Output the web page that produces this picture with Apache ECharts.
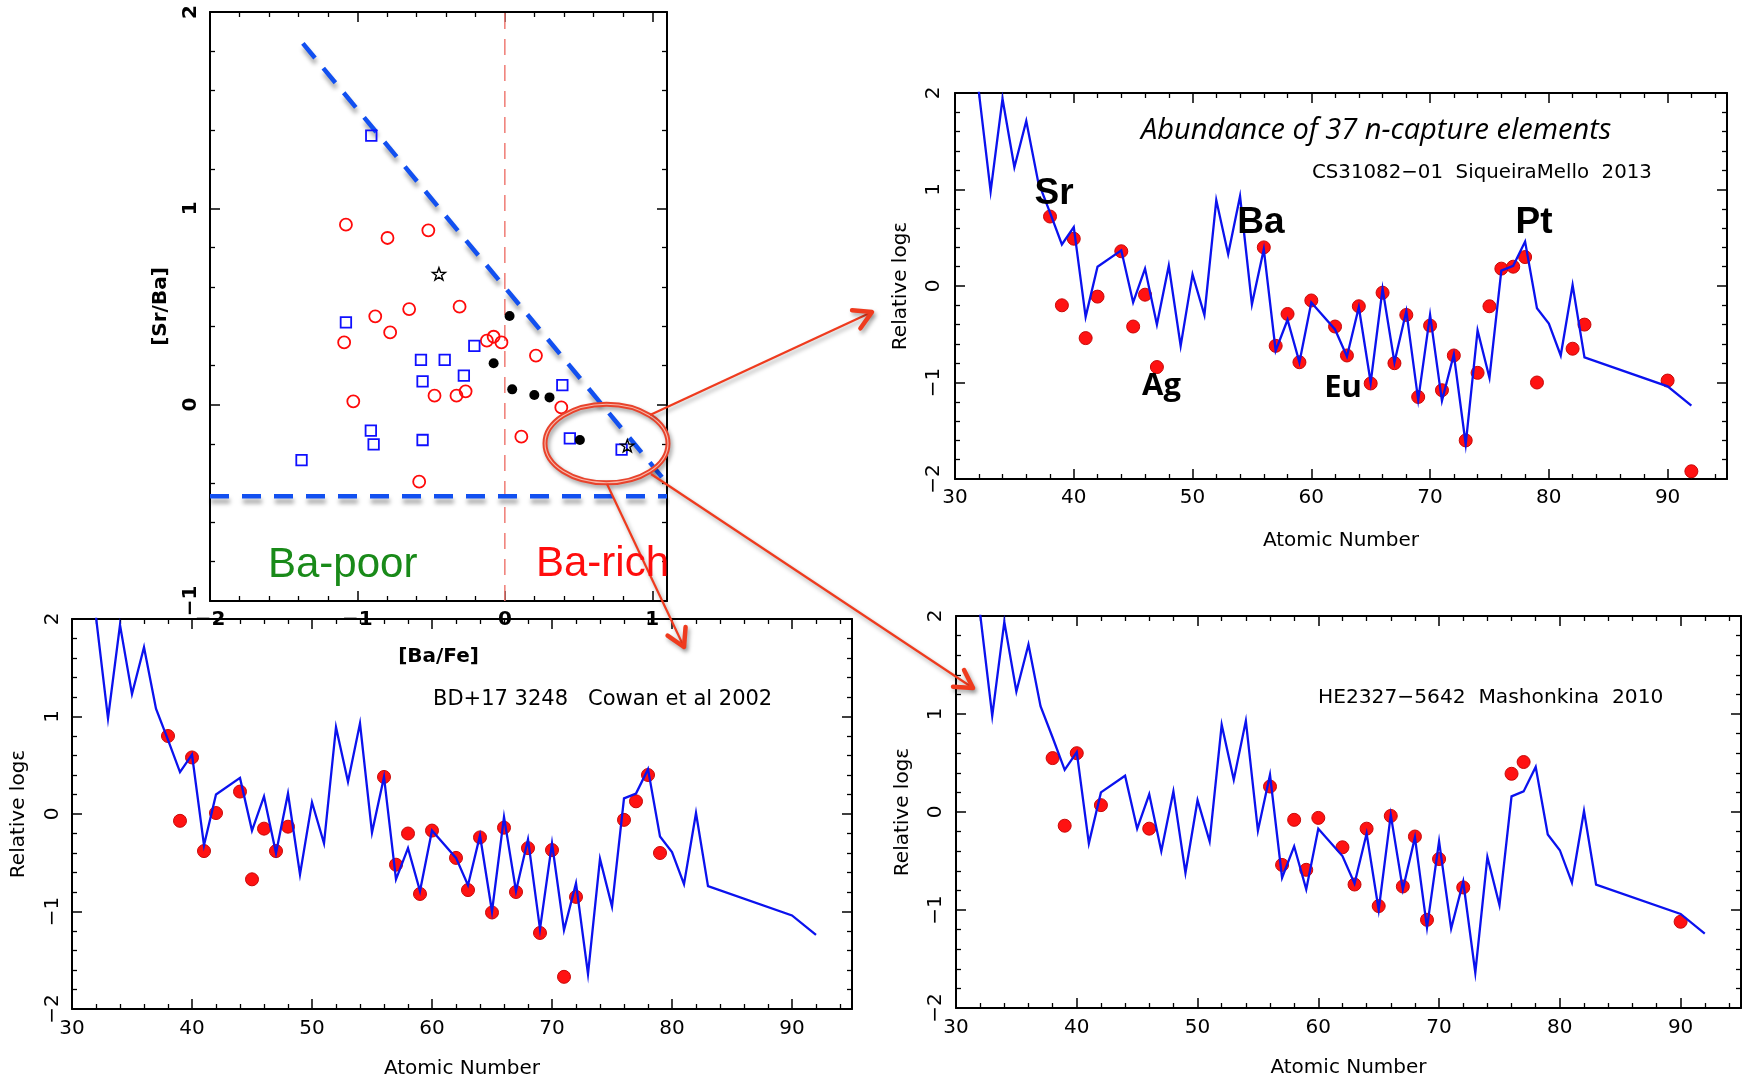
<!DOCTYPE html>
<html>
<head>
<meta charset="utf-8">
<title>n-capture abundance patterns</title>
<script src="https://cdn.jsdelivr.net/npm/echarts@6/dist/echarts.min.js"></script>
<style>
  html, body { margin: 0; padding: 0; background: #ffffff; }
  #chart { width: 1752px; height: 1081px; }
</style>
</head>
<body>
<div id="chart"></div>
<script>
// ---------- [Ba/Fe] vs [Sr/Ba] sample ----------
const redCircles = [
  [-1.078, 0.917], [-0.796, 0.849], [-0.519, 0.888], [-0.307, 0.499], [-0.649, 0.487],
  [-0.879, 0.450], [-0.778, 0.368], [-1.090, 0.317], [-0.076, 0.346], [-0.122, 0.326],
  [-0.023, 0.317], [0.211, 0.250], [-1.028, 0.017], [-0.477, 0.046], [-0.328, 0.046],
  [-0.266, 0.068], [0.383, -0.014], [0.112, -0.163], [-0.581, -0.392]
];
const blueSquares = [
  [-0.906, 1.370], [-1.078, 0.419], [-0.207, 0.299], [-0.569, 0.228], [-0.408, 0.228],
  [-0.278, 0.148], [-0.558, 0.119], [0.390, 0.100], [-0.909, -0.132], [-0.890, -0.202],
  [-0.558, -0.180], [-1.379, -0.282], [0.441, -0.172], [0.792, -0.229]
];
const blackDots = [
  [0.032, 0.452], [-0.076, 0.211], [0.050, 0.078], [0.200, 0.049], [0.303, 0.037], [0.509, -0.180]
];
const openStars = [[-0.447, 0.666], [0.831, -0.209]];
const diagonalCut = [[-1.37, 1.84], [1.10, -0.40]];
const horizontalCut = [[-2.0, -0.467], [1.10, -0.467]];
const baDivide = [[0, -1], [0, 2]];

// ---------- scaled solar r-process pattern ----------
const rPatternZ = [32, 33, 34, 35, 36, 37, 38, 39, 40, 41, 42, 44, 45, 46, 47, 48, 49, 50, 51, 52,
  53, 54, 55, 56, 57, 58, 59, 60, 62, 63, 64, 65, 66, 67, 68, 69, 70, 71, 72, 73,
  74, 75, 76, 77, 78, 79, 80, 81, 82, 83, 90, 92];
const rPatternVal = [2.02, 0.98, 1.94, 1.23, 1.71, 1.08, 0.76, 0.43, 0.61, -0.32, 0.20, 0.37, -0.17, 0.18, -0.40, 0.21, -0.62, 0.12, -0.30, 0.89,
  0.33, 0.93, -0.19, 0.38, -0.67, -0.35, -0.79, -0.17, -0.45, -0.73, -0.22, -1.00, -0.03, -0.79, -0.26, -1.18, -0.30, -1.19, -0.71, -1.64,
  -0.46, -0.95, 0.16, 0.21, 0.46, -0.23, -0.39, -0.72, 0.01, -0.74, -1.04, -1.24];

// ---------- stellar abundances ----------
const cs31082Z = [38, 39, 40, 41, 42, 44, 45, 46, 47, 56, 57, 58, 59, 60, 62, 63, 64, 65, 66, 67,
  68, 69, 70, 71, 72, 73, 74, 75, 76, 77, 78, 79, 82, 83, 90, 92];
const cs31082Val = [0.72, -0.20, 0.49, -0.54, -0.11, 0.36, -0.42, -0.09, -0.84, 0.40, -0.62, -0.29, -0.79, -0.15, -0.42, -0.72, -0.21, -1.01, -0.07, -0.80,
  -0.30, -1.15, -0.41, -1.08, -0.72, -1.60, -0.90, -0.21, 0.18, 0.20, 0.30, -1.00, -0.65, -0.40, -0.98, -1.92];

const bd17Z = [38, 39, 40, 41, 42, 44, 45, 46, 47, 48, 56, 57, 58, 59, 60, 62, 63, 64, 65, 66,
  67, 68, 69, 70, 71, 72, 76, 77, 78, 79];
const bd17Val = [0.80, -0.07, 0.58, -0.38, 0.01, 0.23, -0.67, -0.15, -0.38, -0.13, 0.38, -0.52, -0.20, -0.82, -0.17, -0.45, -0.78, -0.24, -1.01, -0.14,
  -0.80, -0.35, -1.22, -0.37, -1.67, -0.85, -0.06, 0.13, 0.40, -0.40];

const he2327Z = [38, 39, 40, 42, 46, 56, 57, 58, 59, 60, 62, 63, 64, 65, 66, 67, 68, 69, 70, 72, 76, 77, 90];
const he2327Val = [0.55, -0.14, 0.60, 0.07, -0.17, 0.26, -0.54, -0.08, -0.59, -0.06, -0.36, -0.74, -0.17, -0.96, -0.04, -0.76, -0.25, -1.10, -0.48, -0.77, 0.39, 0.51, -1.12];

// ---------- styling ----------
const FONT = '"DejaVu Sans", sans-serif';
const PATTERN_BLUE = '#0b12ee';
const DOT_RED = '#ff1212';
const CUT_BLUE = '#1250f0';
const ANNOT_RED = '#ef3b1e';

const pairs = (xs, ys) => xs.map((x, i) => [x, ys[i]]);
const tickText = step => v => {
  const k = Math.round(v / step);
  if (Math.abs(v - k * step) > 1e-6) return '';
  return String(k * step).replace('-', '\u2212');
};

function xAxisPair(g, cfg) {
  const base = {
    type: 'value', gridIndex: g, min: cfg.min, max: cfg.max, interval: cfg.interval,
    axisLine: { show: true, onZero: false, lineStyle: { color: '#000', width: 2 } },
    axisTick: { show: true, inside: true, length: 10, lineStyle: { color: '#000', width: 1.5 } },
    minorTick: { show: true, splitNumber: 5, length: 5, lineStyle: { color: '#000', width: 1.3 } },
    splitLine: { show: false }, minorSplitLine: { show: false }, silent: true
  };
  return [
    Object.assign({}, base, {
      position: 'bottom',
      axisLabel: { show: true, margin: cfg.margin, fontFamily: FONT, fontSize: 20, color: '#000',
        fontWeight: cfg.weight || 'normal', formatter: tickText(cfg.interval), hideOverlap: false },
      name: cfg.name, nameLocation: 'middle', nameGap: cfg.nameGap, nameMoveOverlap: false,
      nameTextStyle: { fontFamily: FONT, fontSize: 20, color: '#000', fontWeight: cfg.weight || 'normal' }
    }),
    Object.assign({}, base, { position: 'top', axisLabel: { show: false } })
  ];
}

function yAxisPair(g, cfg) {
  const base = {
    type: 'value', gridIndex: g, min: cfg.min, max: cfg.max, interval: cfg.interval,
    axisLine: { show: true, onZero: false, lineStyle: { color: '#000', width: 2 } },
    axisTick: { show: true, inside: true, length: 10, lineStyle: { color: '#000', width: 1.5 } },
    minorTick: { show: true, splitNumber: 5, length: 5, lineStyle: { color: '#000', width: 1.3 } },
    splitLine: { show: false }, minorSplitLine: { show: false }, silent: true
  };
  return [
    Object.assign({}, base, {
      position: 'left',
      axisLabel: { show: true, rotate: 90, margin: cfg.margin, fontFamily: FONT, fontSize: 20, color: '#000',
        fontWeight: cfg.weight || 'normal', formatter: tickText(cfg.interval), hideOverlap: false },
      name: cfg.name, nameLocation: 'middle', nameGap: cfg.nameGap, nameRotate: 90, nameMoveOverlap: false,
      nameTextStyle: { fontFamily: FONT, fontSize: 20, color: '#000', fontWeight: cfg.weight || 'normal' }
    }),
    Object.assign({}, base, { position: 'right', axisLabel: { show: false } })
  ];
}

const grids = [
  { left: 210, top: 12, width: 457, height: 589 },   // [Ba/Fe] - [Sr/Ba]
  { left: 955, top: 93, width: 772, height: 386 },   // CS31082-001
  { left: 72, top: 619, width: 780, height: 390 },   // BD+17 3248
  { left: 956, top: 616, width: 785, height: 392 }   // HE2327-5642
].map(g => Object.assign({ containLabel: false, outerBoundsMode: 'none' }, g));

const xAxes = [].concat(
  xAxisPair(0, { min: -2, max: 1.1, interval: 1, margin: 9, name: '[Ba/Fe]', nameGap: 46, weight: 'bold' }),
  xAxisPair(1, { min: 30, max: 95, interval: 10, margin: 9, name: 'Atomic Number', nameGap: 52 }),
  xAxisPair(2, { min: 30, max: 95, interval: 10, margin: 10, name: 'Atomic Number', nameGap: 50 }),
  xAxisPair(3, { min: 30, max: 95, interval: 10, margin: 10, name: 'Atomic Number', nameGap: 50 })
);
const yAxes = [].concat(
  yAxisPair(0, { min: -1, max: 2, interval: 1, margin: 9, name: '[Sr/Ba]', nameGap: 39, weight: 'bold' }),
  yAxisPair(1, { min: -2, max: 2, interval: 1, margin: 11, name: 'Relative log\u03b5', nameGap: 44 }),
  yAxisPair(2, { min: -2, max: 2, interval: 1, margin: 9, name: 'Relative log\u03b5', nameGap: 43 }),
  yAxisPair(3, { min: -2, max: 2, interval: 1, margin: 10, name: 'Relative log\u03b5', nameGap: 43 })
);

const cutShadow = { shadowColor: 'rgba(0,0,0,0.35)', shadowBlur: 4, shadowOffsetX: 1, shadowOffsetY: 5 };
const starPath = 'path://M0,-10L2.35,-3.24L9.51,-3.09L3.8,1.24L5.88,8.09L0,4L-5.88,8.09L-3.8,1.24L-9.51,-3.09L-2.35,-3.24Z';

const series = [
  { type: 'line', xAxisIndex: 0, yAxisIndex: 0, data: baDivide, symbol: 'none', silent: true, z: 1,
    lineStyle: { color: '#ef7b74', width: 1.5, type: [16, 10] } },
  { type: 'line', xAxisIndex: 0, yAxisIndex: 0, data: horizontalCut, symbol: 'none', silent: true, z: 2,
    lineStyle: Object.assign({ color: CUT_BLUE, width: 4.5, type: [19, 13] }, cutShadow) },
  { type: 'line', xAxisIndex: 0, yAxisIndex: 0, data: diagonalCut, symbol: 'none', silent: true, z: 2,
    lineStyle: Object.assign({ color: CUT_BLUE, width: 4.5, type: [19, 13] }, cutShadow) },
  { type: 'scatter', xAxisIndex: 0, yAxisIndex: 0, data: redCircles, symbol: 'circle', symbolSize: 12, z: 3,
    itemStyle: { color: 'rgba(255,255,255,0)', borderColor: '#ff0a0a', borderWidth: 1.8, opacity: 1 } },
  { type: 'scatter', xAxisIndex: 0, yAxisIndex: 0, data: blueSquares, symbol: 'rect', symbolSize: 10.5, z: 3,
    itemStyle: { color: 'rgba(255,255,255,0)', borderColor: '#1010ff', borderWidth: 1.8, opacity: 1 } },
  { type: 'scatter', xAxisIndex: 0, yAxisIndex: 0, data: blackDots, symbol: 'circle', symbolSize: 10, z: 3,
    itemStyle: { color: '#000', opacity: 1 } },
  { type: 'scatter', xAxisIndex: 0, yAxisIndex: 0, data: openStars, symbol: starPath, symbolSize: 13, z: 4,
    symbolKeepAspect: true, itemStyle: { color: 'rgba(255,255,255,0)', borderColor: '#000', borderWidth: 1.4, opacity: 1 } }
];

[[1, cs31082Z, cs31082Val], [2, bd17Z, bd17Val], [3, he2327Z, he2327Val]].forEach(([g, zs, vs]) => {
  series.push({ type: 'scatter', xAxisIndex: 2 * g, yAxisIndex: 2 * g, data: pairs(zs, vs),
    symbol: 'circle', symbolSize: 13, z: 2,
    itemStyle: { color: DOT_RED, borderColor: '#c80808', borderWidth: 1, opacity: 1 } });
  series.push({ type: 'line', xAxisIndex: 2 * g, yAxisIndex: 2 * g, data: pairs(rPatternZ, rPatternVal),
    symbol: 'none', z: 3, silent: true, clip: true,
    lineStyle: { color: PATTERN_BLUE, width: 2.3, join: 'miter' } });
});

// ---------- annotations ----------
const annShadow = { shadowColor: 'rgba(0,0,0,0.35)', shadowBlur: 4, shadowOffsetX: 2, shadowOffsetY: 3 };
function arrow(x1, y1, x2, y2) {
  const a = Math.atan2(y2 - y1, x2 - x1), L = 20, s = 0.52;
  const p1 = [x2 - L * Math.cos(a - s), y2 - L * Math.sin(a - s)];
  const p2 = [x2 - L * Math.cos(a + s), y2 - L * Math.sin(a + s)];
  return [
    { type: 'line', z: 60, shape: { x1, y1, x2, y2 },
      style: Object.assign({ stroke: ANNOT_RED, lineWidth: 2.2 }, annShadow) },
    { type: 'polyline', z: 60, shape: { points: [p1, [x2, y2], p2] },
      style: Object.assign({ stroke: ANNOT_RED, fill: null, lineWidth: 4.5, lineCap: 'round', lineJoin: 'round' }, annShadow) }
  ];
}
function label(text, x, y, font, fill, align) {
  return { type: 'text', z: 70, x, y, silent: true,
    style: { text, font, fill, align: align || 'left', verticalAlign: 'middle' } };
}

const graphics = [].concat(
  [
    { type: 'ellipse', z: 55, shape: { cx: 606.5, cy: 443.5, rx: 61.5, ry: 39.3 },
      style: Object.assign({ stroke: '#e8432c', fill: null, lineWidth: 5 }, annShadow) },
    { type: 'ellipse', z: 56, shape: { cx: 606.5, cy: 443.5, rx: 61.5, ry: 39.3 },
      style: { stroke: '#f8b8aa', fill: null, lineWidth: 1.1 } }
  ],
  arrow(650, 415, 872, 312),
  arrow(651, 474, 973, 688),
  arrow(607, 484, 684, 647),
  [
    label('Ba-poor', 268, 565.5, '42px "Liberation Sans", Arial, sans-serif', '#198a19'),
    label('Ba-rich', 536, 564, '42px "Liberation Sans", Arial, sans-serif', '#ff0d0d'),
    label('Abundance of 37 n-capture elements', 1141, 130.5, 'italic 29px "Open Sans", sans-serif', '#000'),
    label('CS31082\u221201  SiqueiraMello  2013', 1312, 173, '19.8px "DejaVu Sans", sans-serif', '#000'),
    label('BD+17 3248   Cowan et al 2002', 433, 700, '21px "DejaVu Sans", sans-serif', '#000'),
    label('HE2327\u22125642  Mashonkina  2010', 1318, 698, '20.2px "DejaVu Sans", sans-serif', '#000'),
    label('Sr', 1054, 194, 'bold 37px "Liberation Sans", Arial, sans-serif', '#000', 'center'),
    label('Ba', 1261, 223, 'bold 37px "Liberation Sans", Arial, sans-serif', '#000', 'center'),
    label('Pt', 1534, 223, 'bold 37px "Liberation Sans", Arial, sans-serif', '#000', 'center'),
    label('Ag', 1161.5, 386, 'bold 31px "Open Sans", sans-serif', '#000', 'center'),
    label('Eu', 1343, 388, 'bold 31px "Open Sans", sans-serif', '#000', 'center')
  ]
);

const chart = echarts.init(document.getElementById('chart'), null, { renderer: 'canvas' });
chart.setOption({
  backgroundColor: '#ffffff',
  animation: false,
  grid: grids,
  xAxis: xAxes,
  yAxis: yAxes,
  series,
  graphic: graphics
});
</script>
</body>
</html>
